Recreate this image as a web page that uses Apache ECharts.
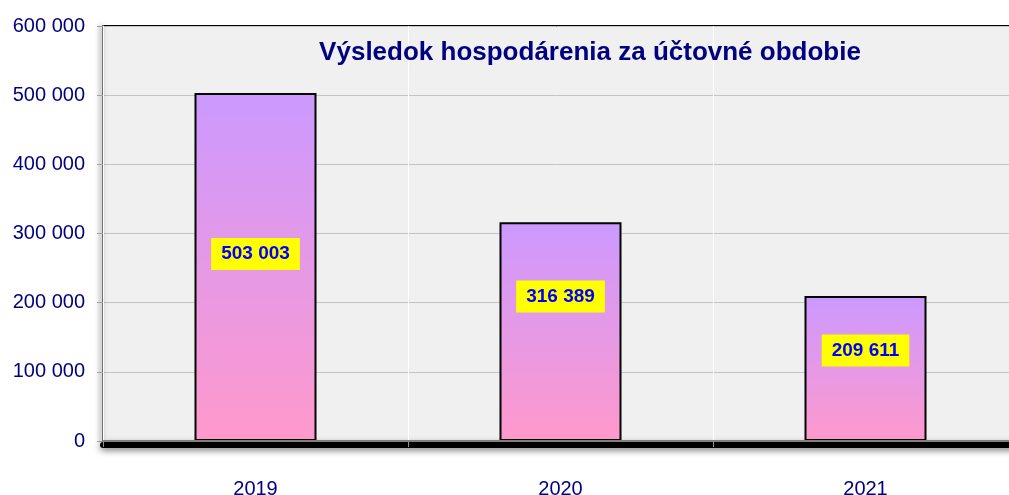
<!DOCTYPE html>
<html>
<head>
<meta charset="utf-8">
<script src="https://cdn.jsdelivr.net/npm/echarts@6/dist/echarts.min.js"></script>
<style>
  html, body { margin: 0; padding: 0; background: #fff; }
  #chart { width: 1009px; height: 495px; }
</style>
</head>
<body>
<div id="chart"></div>
<script>
  var years = ['2019', '2020', '2021'];
  var results = [503003, 316389, 209611];
  var yTicks = [0, 100000, 200000, 300000, 400000, 500000, 600000];
  // posun popisov od stredu stlpca (len vzhlad)
  var labelShift = [-13, -35, -18];

  function fmt(v) {
    return String(v).replace(/\B(?=(\d{3})+(?!\d))/g, ' ');
  }

  var myChart = echarts.init(document.getElementById('chart'));

  var barData = [];
  for (var i = 0; i < results.length; i++) {
    barData.push({
      value: results[i],
      label: { offset: [0, labelShift[i]] }
    });
  }

  var option = {
    animation: false,
    textStyle: { fontFamily: 'Liberation Sans, Arial, sans-serif' },
    title: {
      text: 'Výsledok hospodárenia za účtovné obdobie',
      left: 585,
      textAlign: 'center',
      top: 35,
      textStyle: {
        color: '#000080',
        fontSize: 26,
        fontWeight: 'bold',
        fontFamily: 'Liberation Sans, Arial, sans-serif'
      }
    },
    grid: {
      left: 103,
      top: 26,
      right: -9,
      bottom: 54,
      outerBoundsMode: 'none',
      containLabel: false,
      show: true,
      backgroundColor: '#f0f0f0',
      borderColor: '#000',
      borderWidth: 2
    },
    xAxis: [{
      type: 'category',
      data: years,
      boundaryGap: true,
      axisLine: {
        lineStyle: { color: '#808080', width: 2 }
      },
      axisTick: { show: true, length: 6, lineStyle: { color: '#909090' } },
      splitLine: { show: true, lineStyle: { color: '#ffffff', width: 1 } },
      axisLabel: {
        color: '#000080',
        fontSize: 20,
        margin: 38
      },
      z: 3
    }, {
      // tien pod osou
      type: 'category',
      data: years,
      position: 'bottom',
      offset: 4,
      axisLine: {
        lineStyle: {
          color: '#000',
          width: 6,
          shadowColor: 'rgba(0,0,0,0.6)',
          shadowBlur: 7,
          shadowOffsetY: 2
        }
      },
      axisTick: { show: false },
      axisLabel: { show: false },
      splitLine: { show: false },
      z: 1
    }],
    yAxis: {
      type: 'value',
      min: yTicks[0],
      max: yTicks[yTicks.length - 1],
      interval: yTicks[1] - yTicks[0],
      axisLine: {
        show: true,
        lineStyle: {
          color: '#707070',
          width: 2,
          shadowColor: 'rgba(0,0,0,0.5)',
          shadowBlur: 5,
          shadowOffsetX: -2
        }
      },
      axisTick: { show: true, length: 6, lineStyle: { color: '#a0a0a0' } },
      splitLine: { show: true, lineStyle: { color: '#c4c4c4', width: 1 } },
      axisLabel: {
        color: '#000080',
        fontSize: 20,
        margin: 18,
        formatter: fmt
      }
    },
    series: [{
      type: 'bar',
      data: barData,
      barWidth: '40%',
      itemStyle: {
        color: new echarts.graphic.LinearGradient(0, 0, 0, 1, [
          { offset: 0, color: '#cc99ff' },
          { offset: 1, color: '#ff99cc' }
        ]),
        borderColor: '#000',
        borderWidth: 2
      },
      label: {
        show: true,
        position: 'inside',
        formatter: function (p) { return fmt(p.value); },
        color: '#0000ff',
        fontSize: 19,
        fontWeight: 'bold',
        backgroundColor: '#ffff00',
        padding: [7, 10, 6, 10]
      }
    }]
  };

  myChart.setOption(option);
</script>
</body>
</html>
